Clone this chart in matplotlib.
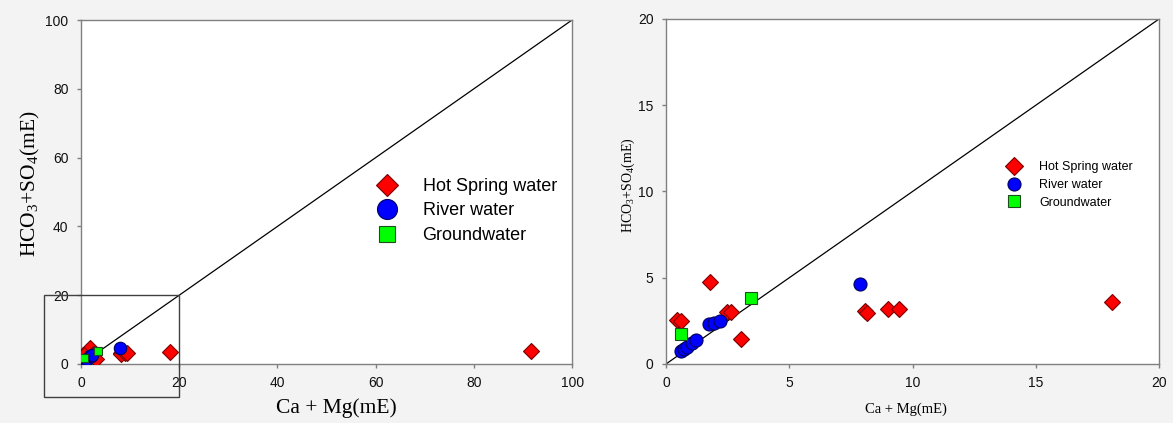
import matplotlib
matplotlib.use("Agg")
import matplotlib.pyplot as plt
from matplotlib.lines import Line2D
from matplotlib.patches import Rectangle

# Ca + Mg と HCO3 + SO4 (mE)
hot_x = [1.79, 0.46, 0.62, 2.46, 2.62, 3.06, 8.07, 8.17, 9.0, 9.45, 18.08, 91.6]
hot_y = [4.74, 2.53, 2.49, 3.03, 3.0, 1.45, 3.07, 2.94, 3.19, 3.19, 3.59, 3.9]
river_x = [0.62, 0.72, 0.85, 1.05, 1.2, 1.75, 1.95, 2.2, 7.87]
river_y = [0.78, 0.85, 1.0, 1.2, 1.38, 2.3, 2.35, 2.5, 4.64]
ground_x = [0.61, 3.45]
ground_y = [1.76, 3.81]

labels = ["Hot Spring water", "River water", "Groundwater"]
left_ticks = [0, 20, 40, 60, 80, 100]
right_ticks = [0, 5, 10, 15, 20]

sans = "Liberation Sans"
serif = "Liberation Serif"
ylab = r"HCO$_\mathregular{3}$+SO$_\mathregular{4}$(mE)"
xlab = "Ca + Mg(mE)"
spine_c = "#808080"

styles = [
    dict(marker="D", color="#ff0000", mec="#7a0000"),
    dict(marker="o", color="#0000ff", mec="#000060"),
    dict(marker="s", color="#00ff00", mec="#1e4d1e"),
]

fig = plt.figure(figsize=(11.73, 4.23), dpi=100)
fig.patch.set_facecolor("#f3f3f3")

ax1 = fig.add_axes([0.0691, 0.1395, 0.4186, 0.8132])
ax2 = fig.add_axes([0.5678, 0.1395, 0.4203, 0.8156])


def draw(ax, lim, ticks, sizes, fs_tick):
    ax.set_facecolor("white")
    ax.plot([0, lim], [0, lim], color="black", lw=0.9, zorder=2)
    data = [(hot_x, hot_y), (river_x, river_y), (ground_x, ground_y)]
    for (xs, ys), st, ms in zip(data, styles, sizes):
        ax.plot(xs, ys, ls="none", marker=st["marker"], ms=ms,
                mfc=st["color"], mec=st["mec"], mew=0.8, zorder=3)
    ax.set_xlim(0, lim)
    ax.set_ylim(0, lim)
    ax.set_xticks(ticks)
    ax.set_yticks(ticks)
    for s in ax.spines.values():
        s.set_color(spine_c)
        s.set_linewidth(1.0)
    ax.tick_params(direction="out", length=3, width=1, color=spine_c,
                   labelsize=fs_tick, pad=6, labelcolor="#111111")
    for t in ax.get_xticklabels() + ax.get_yticklabels():
        t.set_family(sans)


draw(ax1, 100, left_ticks, [8.0, 9.0, 5.5], 10)
draw(ax2, 20, right_ticks, [7.8, 9.4, 8.6], 10)

# 拡大範囲の枠
ax1.add_patch(Rectangle((-7.5, -9.6), 27.5, 29.6, fill=False,
                        ec="#404040", lw=1.0, clip_on=False, zorder=4))

ax1.set_ylabel(ylab, family=serif, fontsize=15.5)
ax1.set_xlabel(xlab, family=serif, fontsize=15.5)
ax1.yaxis.set_label_coords(-0.079, 0.526)
ax1.xaxis.set_label_coords(0.519, -0.1)

ax2.set_ylabel(ylab, family=serif, fontsize=10)
ax2.set_xlabel(xlab, family=serif, fontsize=10.5)
ax2.yaxis.set_label_coords(-0.059, 0.519)
ax2.xaxis.set_label_coords(0.487, -0.113)


def handles(sizes):
    return [Line2D([], [], ls="none", marker=st["marker"], ms=ms,
                   mfc=st["color"], mec=st["mec"], mew=0.8)
            for st, ms in zip(styles, sizes)]


ax1.legend(handles([11.2, 14.4, 11.5]), labels, loc="center left",
           bbox_to_anchor=(0.587, 0.445), frameon=False, borderpad=0,
           handlelength=1, handletextpad=1.45, labelspacing=0.42,
           prop={"family": sans, "size": 13})
ax2.legend(handles([8.7, 9.4, 8.0]), labels, loc="center left",
           bbox_to_anchor=(0.681, 0.519), frameon=False, borderpad=0,
           handlelength=1, handletextpad=1.5, labelspacing=0.45,
           prop={"family": sans, "size": 9})

fig.savefig("out.png", dpi=100, facecolor=fig.get_facecolor())
